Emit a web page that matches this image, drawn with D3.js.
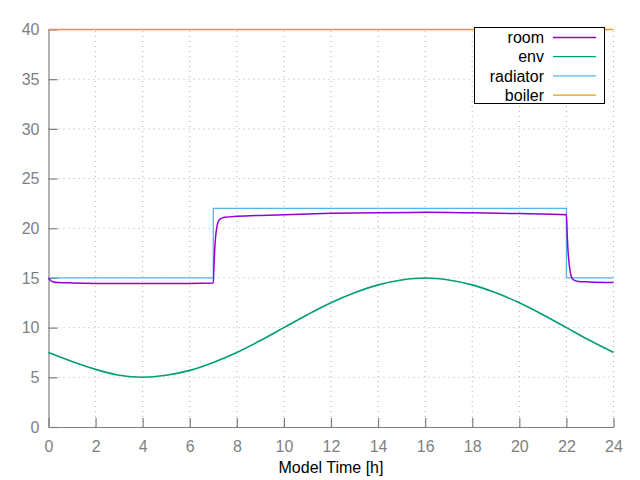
<!DOCTYPE html>
<html>
<head>
<meta charset="utf-8">
<script src="https://cdn.jsdelivr.net/npm/d3@7"></script>
<style>
  html, body { margin: 0; padding: 0; background: #fff; }
  svg { display: block; font-family: "Liberation Sans", Arial, sans-serif; }
  .tick-label { fill: #7f7f7f; font-size: 16px; }
  .grid { stroke: #b0b0b0; stroke-width: 1; stroke-dasharray: 1 4; }
</style>
</head>
<body>
<svg id="chart" width="640" height="480"></svg>
<script>
// ── Data ──
var xTicks = [0, 2, 4, 6, 8, 10, 12, 14, 16, 18, 20, 22, 24];
var yTicks = [0, 5, 10, 15, 20, 25, 30, 35, 40];

var roomTime = [0, 0.05, 0.1, 0.2, 0.4, 1, 3, 5, 7, 7.03, 7.06, 7.1, 7.15, 7.2, 7.3, 7.5, 8, 10, 12, 14, 16, 18, 20, 22,
                22.03, 22.06, 22.1, 22.15, 22.2, 22.3, 22.5, 23, 24];
var roomTemp = [15.0, 14.85, 14.72, 14.6, 14.54, 14.5, 14.45, 14.45, 14.5, 16.3, 17.8, 19.2, 20.1, 20.6, 20.95, 21.1, 21.2, 21.35, 21.5, 21.57, 21.6, 21.55, 21.48, 21.35,
                19.6, 18.0, 16.8, 15.8, 15.2, 14.8, 14.65, 14.6, 14.55];

var envTime = [0, 1, 2, 3, 4, 5, 6, 7, 8, 9, 10, 11, 12, 13, 14, 15, 16, 17, 18, 19, 20, 21, 22, 23, 24];
var envTemp = [7.5, 6.6, 5.8, 5.2, 5.0, 5.2, 5.7, 6.5, 7.5, 8.7, 10.0, 11.3, 12.5, 13.5, 14.3, 14.8, 15.0, 14.8, 14.3, 13.5, 12.5, 11.3, 10.0, 8.7, 7.5];

var radTime = [0, 7, 7, 22, 22, 24];
var radTemp = [15, 15, 22, 22, 15, 15];

var boilerTime = [0, 24];
var boilerTemp = [40, 40];

var seriesNames = ['room', 'env', 'radiator', 'boiler'];
var seriesColors = ['#9400d3', '#009e73', '#56b4e9', '#e69f00'];

// ── Layout ──
var svg = d3.select('#chart');
var plotL = 48.5, plotR = 613.5, plotT = 29.5, plotB = 427;

var x = d3.scaleLinear().domain([0, 24]).range([plotL, plotR]);
var y = d3.scaleLinear().domain([0, 40]).range([plotB, plotT]);

// Grid
var grid = svg.append('g');
grid.selectAll('.gx').data(xTicks.slice(1)).join('line').attr('class', 'grid')
  .attr('x1', function (d) { return x(d); }).attr('x2', function (d) { return x(d); })
  .attr('y1', plotB).attr('y2', plotT);
grid.selectAll('.gy').data(yTicks.slice(1)).join('line').attr('class', 'grid')
  .attr('y1', function (d) { return y(d); }).attr('y2', function (d) { return y(d); })
  .attr('x1', plotL).attr('x2', plotR);

// Axes (ticks pointing inward)
var xAxis = d3.axisBottom(x).tickValues(xTicks).tickSize(-9).tickPadding(14).tickSizeOuter(0);
var yAxis = d3.axisLeft(y).tickValues(yTicks).tickSize(-9).tickPadding(9).tickSizeOuter(0);

var gx = svg.append('g').attr('transform', 'translate(0,' + plotB + ')').call(xAxis);
var gy = svg.append('g').attr('transform', 'translate(' + plotL + ',0)').call(yAxis);
[gx, gy].forEach(function (g) {
  g.attr('font-family', null).attr('font-size', null);
  g.select('.domain').attr('stroke', '#7f7f7f').attr('stroke-width', 1.2);
  g.selectAll('.tick line').attr('stroke', '#7f7f7f').attr('stroke-width', 1.2);
  g.selectAll('.tick text').attr('class', 'tick-label').attr('fill', null);
});
gx.selectAll('.tick text').attr('dy', '0.71em');

// Lines
var line = d3.line().x(function (d) { return x(d[0]); }).y(function (d) { return y(d[1]); });
var smooth = d3.line().curve(d3.curveMonotoneX).x(function (d) { return x(d[0]); }).y(function (d) { return y(d[1]); });

function pairs(t, v) { return t.map(function (d, i) { return [d, v[i]]; }); }

var plot = svg.append('g').attr('fill', 'none').attr('stroke-width', 1.3);
plot.append('path').attr('d', line(pairs(boilerTime, boilerTemp))).attr('stroke', seriesColors[3]);
plot.append('path').attr('d', smooth(pairs(envTime, envTemp))).attr('stroke', seriesColors[1]).attr('stroke-width', 1.6);
plot.append('path').attr('d', line(pairs(radTime, radTemp))).attr('stroke', seriesColors[2]);
plot.append('path').attr('d', smooth(pairs(roomTime, roomTemp))).attr('stroke', seriesColors[0]).attr('stroke-width', 1.5);

// X label
svg.append('text').attr('x', 331).attr('y', 473).attr('text-anchor', 'middle')
  .attr('font-size', 16).attr('fill', '#000').text('Model Time [h]');

// Legend
var legend = svg.append('g');
legend.append('rect').attr('x', 474.5).attr('y', 27.5).attr('width', 130).attr('height', 76)
  .attr('fill', '#fff').attr('stroke', '#000').attr('stroke-width', 1);
var items = legend.selectAll('.item').data(seriesNames).join('g')
  .attr('transform', function (d, i) { return 'translate(0,' + (37.5 + i * 19.2) + ')'; });
items.append('text').attr('x', 544).attr('y', 0).attr('dy', '0.36em').attr('text-anchor', 'end')
  .attr('font-size', 16).attr('fill', '#000').text(function (d) { return d; });
items.append('line').attr('x1', 553).attr('x2', 596).attr('y1', 0).attr('y2', 0)
  .attr('stroke', function (d, i) { return seriesColors[i]; }).attr('stroke-width', 1.3);
</script>
</body>
</html>
